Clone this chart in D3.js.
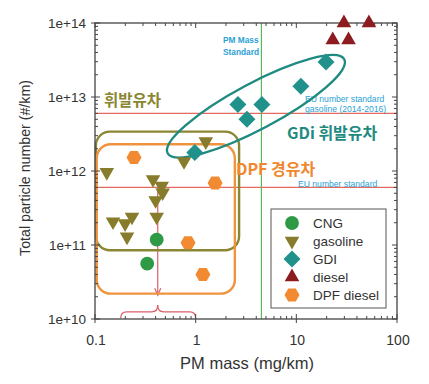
<!DOCTYPE html>
<html>
<head>
<meta charset="utf-8">
<script src="https://cdn.jsdelivr.net/npm/d3@7.9.0/dist/d3.min.js"></script>
<style>
  body { margin: 0; background: #fff; }
  svg { display: block; font-family: "Liberation Sans", Arial, sans-serif; }
  .kr { font-family: "Noto Sans CJK KR", "Noto Sans", sans-serif; font-weight: bold; }
</style>
</head>
<body>
<svg width="429" height="384"></svg>
<script>
// data: [PM mass mg/km, particle number #/km]
const cng = [[0.41, 1.18e11], [0.33, 5.6e10]];
const gasoline = [
  [0.131, 9.6e11], [0.377, 7.7e11], [0.46, 6.3e11], [0.47, 5.1e11], [0.40, 4.0e11],
  [0.41, 2.4e11], [0.151, 2.07e11], [0.199, 1.95e11], [0.233, 2.4e11], [0.208, 1.29e11],
  [0.766, 1.35e12], [1.26, 2.5e12]
];
const gdi = [[0.98, 1.78e12], [2.63, 7.9e12], [3.23, 5.0e12], [4.55, 7.9e12], [11.1, 1.4e13], [19.7, 2.96e13]];
const diesel = [[29.7, 1.0e14], [52.6, 1.0e14], [23, 5.9e13], [33, 5.9e13]];
const dpfDiesel = [[0.244, 1.52e12], [1.56, 6.9e11], [0.84, 1.07e11], [1.18, 3.98e10]];

const legendLabels = ["CNG", "gasoline", "GDI", "diesel", "DPF diesel"];
const xTickLabels = ["0.1", "1", "10", "100"];
const yTickLabels = ["1e+10", "1e+11", "1e+12", "1e+13", "1e+14"];

// standards
const pnStandardGasoline = 6e12;
const pnStandard = 6e11;
const pmMassStandard = 4.5;

const svg = d3.select("svg");
const x = d3.scaleLog().domain([0.1, 100]).range([95, 397]);
const y = d3.scaleLog().domain([1e10, 1e14]).range([319, 23]);

const colors = {
  cng: "#2f9a45", gasoline: "#867c2b", gdi: "#21918c", diesel: "#8c1c1f", dpf: "#f28a32"
};

// reference lines
svg.append("line").attr("x1", x(0.1)).attr("x2", x(100))
  .attr("y1", y(pnStandardGasoline)).attr("y2", y(pnStandardGasoline))
  .attr("stroke", "#e46a60").attr("stroke-width", 1.2);
svg.append("line").attr("x1", x(0.1)).attr("x2", x(100))
  .attr("y1", y(pnStandard)).attr("y2", y(pnStandard))
  .attr("stroke", "#e46a60").attr("stroke-width", 1.2);
svg.append("line").attr("x1", x(pmMassStandard)).attr("x2", x(pmMassStandard))
  .attr("y1", y(1e10)).attr("y2", y(1e14))
  .attr("stroke", "#5cb65c").attr("stroke-width", 1.2);

// red arrow down from the standard line, and brace
svg.append("line").attr("x1", x(0.42)).attr("x2", x(0.42))
  .attr("y1", y(pnStandard)).attr("y2", y(2.1e10))
  .attr("stroke", "#d9606a").attr("stroke-width", 1.2);
svg.append("path")
  .attr("d", `M${x(0.42) - 3},${y(2.3e10) - 4} L${x(0.42)},${y(2.1e10)} L${x(0.42) + 3},${y(2.3e10) - 4}`)
  .attr("fill", "none").attr("stroke", "#d9606a").attr("stroke-width", 1.2);
{
  const bx0 = x(0.18), bx1 = x(1.0), bm = x(0.42), by = y(1.25e10), bt = y(1.55e10), bb = y(1.02e10);
  svg.append("path")
    .attr("d", `M${bx0},${bb} Q${bx0},${by} ${bx0 + 6},${by} L${bm - 6},${by} Q${bm},${by} ${bm},${bt}
                Q${bm},${by} ${bm + 6},${by} L${bx1 - 6},${by} Q${bx1},${by} ${bx1},${bb}`)
    .attr("fill", "none").attr("stroke", "#d9606a").attr("stroke-width", 1.3);
}

// annotation texts (ellipse is drawn over them)
svg.append("text").attr("x", 223).attr("y", 43).text("PM Mass")
  .attr("font-size", 8.3).attr("font-weight", "bold").attr("fill", "#2a9fd6");
svg.append("text").attr("x", 223).attr("y", 55).text("Standard")
  .attr("font-size", 8.3).attr("font-weight", "bold").attr("fill", "#2a9fd6");
svg.append("text").attr("x", 305).attr("y", 102).text("EU number standard")
  .attr("font-size", 8.6).attr("fill", "#2a9fd6");
svg.append("text").attr("x", 305).attr("y", 112).text("gasoline (2014-2016)")
  .attr("font-size", 8.6).attr("fill", "#2a9fd6");
svg.append("text").attr("x", 298).attr("y", 187).text("EU number standard")
  .attr("font-size", 8.6).attr("fill", "#2a9fd6");

// grouping boxes
svg.append("rect")
  .attr("x", x(0.102)).attr("y", y(3.4e12))
  .attr("width", x(2.7) - x(0.102)).attr("height", y(8.5e10) - y(3.4e12))
  .attr("rx", 14).attr("fill", "none").attr("stroke", "#8a8632").attr("stroke-width", 2.4);
svg.append("rect")
  .attr("x", x(0.104)).attr("y", y(2.3e12))
  .attr("width", x(2.45) - x(0.104)).attr("height", y(2.2e10) - y(2.3e12))
  .attr("rx", 14).attr("fill", "none").attr("stroke", "#f0933e").attr("stroke-width", 2.4);

// GDi ellipse
{
  const cx = x(3.97), cy = y(7.5e12);
  svg.append("ellipse")
    .attr("cx", 0).attr("cy", 0).attr("rx", 100).attr("ry", 23)
    .attr("transform", `translate(${cx},${cy}) rotate(-28)`)
    .attr("fill", "none").attr("stroke", "#1f8a80").attr("stroke-width", 2.4);
}

svg.append("text").attr("class", "kr").attr("x", 104).attr("y", 106).text("휘발유차")
  .attr("font-size", 15.5).attr("fill", "#8a8632");
svg.append("text").attr("class", "kr").attr("x", 287).attr("y", 139).text("GDi 휘발유차")
  .attr("font-size", 16).attr("fill", "#1f8a80");
svg.append("text").attr("class", "kr").attr("x", 236).attr("y", 175).text("DPF 경유차")
  .attr("font-size", 16).attr("fill", "#f0872e");

// markers
const circlePath = d3.symbol(d3.symbolCircle, 150)();
const triPath = d3.symbol(d3.symbolTriangle, 92)();
const diamondPath = "M0,-8.5L8.5,0L0,8.5L-8.5,0Z";
const hexPath = d3.line()(d3.range(6).map(i => {
  const a = Math.PI / 3 * i;
  return [7.5 * Math.cos(a), 7.5 * Math.sin(a)];
})) + "Z";

function drawSeries(data, path, color, rot) {
  svg.append("g").selectAll("path").data(data).join("path")
    .attr("d", path)
    .attr("transform", d => `translate(${x(d[0])},${y(d[1])})` + (rot ? ` rotate(${rot})` : ""))
    .attr("fill", color);
}

drawSeries(cng, circlePath, colors.cng);
drawSeries(gasoline, triPath, colors.gasoline, 180);
drawSeries(gdi, diamondPath, colors.gdi);
drawSeries(dpfDiesel, hexPath, colors.dpf);

// frame and ticks
const frame = svg.append("g");
frame.append("rect").attr("x", x(0.1)).attr("y", y(1e14))
  .attr("width", x(100) - x(0.1)).attr("height", y(1e10) - y(1e14))
  .attr("fill", "none").attr("stroke", "#444").attr("stroke-width", 1.3);

const isMajor = v => Math.abs(Math.log10(v) - Math.round(Math.log10(v))) < 1e-6;
x.ticks().forEach(v => {
  const px = x(v), maj = isMajor(v);
  frame.append("line").attr("x1", px).attr("x2", px)
    .attr("y1", y(1e10) + (maj ? 4 : 0)).attr("y2", y(1e10) - (maj ? 5 : 3))
    .attr("stroke", "#444");
  frame.append("line").attr("x1", px).attr("x2", px)
    .attr("y1", y(1e14)).attr("y2", y(1e14) + (maj ? 5 : 3))
    .attr("stroke", "#444");
});
y.ticks().forEach(v => {
  const py = y(v), maj = isMajor(v);
  frame.append("line").attr("y1", py).attr("y2", py)
    .attr("x1", x(0.1) - (maj ? 4 : 0)).attr("x2", x(0.1) + (maj ? 5 : 3))
    .attr("stroke", "#444");
  frame.append("line").attr("y1", py).attr("y2", py)
    .attr("x1", x(100)).attr("x2", x(100) - (maj ? 5 : 3))
    .attr("stroke", "#444");
});

// diesel drawn over the frame (they sit on the top edge)
drawSeries(diesel, triPath, colors.diesel);

const xMajors = [0.1, 1, 10, 100];
xMajors.forEach((v, i) => {
  svg.append("text").attr("x", x(v) + 1).attr("y", 345).attr("text-anchor", "middle")
    .attr("font-size", 14).attr("fill", "#333").text(xTickLabels[i]);
});
const yMajors = [1e10, 1e11, 1e12, 1e13, 1e14];
yMajors.forEach((v, i) => {
  svg.append("text").attr("x", 86).attr("y", y(v) + 5).attr("text-anchor", "end")
    .attr("font-size", 13.5).attr("fill", "#333").text(yTickLabels[i]);
});

svg.append("text").attr("x", 247).attr("y", 369).attr("text-anchor", "middle")
  .attr("font-size", 16.5).attr("fill", "#333").text("PM mass (mg/km)");
svg.append("text").attr("transform", "translate(30,168) rotate(-90)").attr("text-anchor", "middle")
  .attr("font-size", 14.2).attr("fill", "#333").text("Total particle number (#/km)");

// legend
const legend = svg.append("g").attr("transform", "translate(271,209)");
legend.append("rect").attr("width", 115).attr("height", 99)
  .attr("fill", "#fff").attr("stroke", "#555").attr("stroke-width", 1);
const legendShapes = [
  [circlePath, colors.cng, 0], [triPath, colors.gasoline, 180], [diamondPath, colors.gdi, 0],
  [triPath, colors.diesel, 0], [hexPath, colors.dpf, 0]
];
legendLabels.forEach((lab, i) => {
  const ly = 14 + i * 18;
  legend.append("path").attr("d", legendShapes[i][0]).attr("fill", legendShapes[i][1])
    .attr("transform", `translate(21,${ly}) rotate(${legendShapes[i][2]})`);
  legend.append("text").attr("x", 42).attr("y", ly + 5).attr("font-size", 13.5)
    .attr("fill", "#333").text(lab);
});
</script>
</body>
</html>
